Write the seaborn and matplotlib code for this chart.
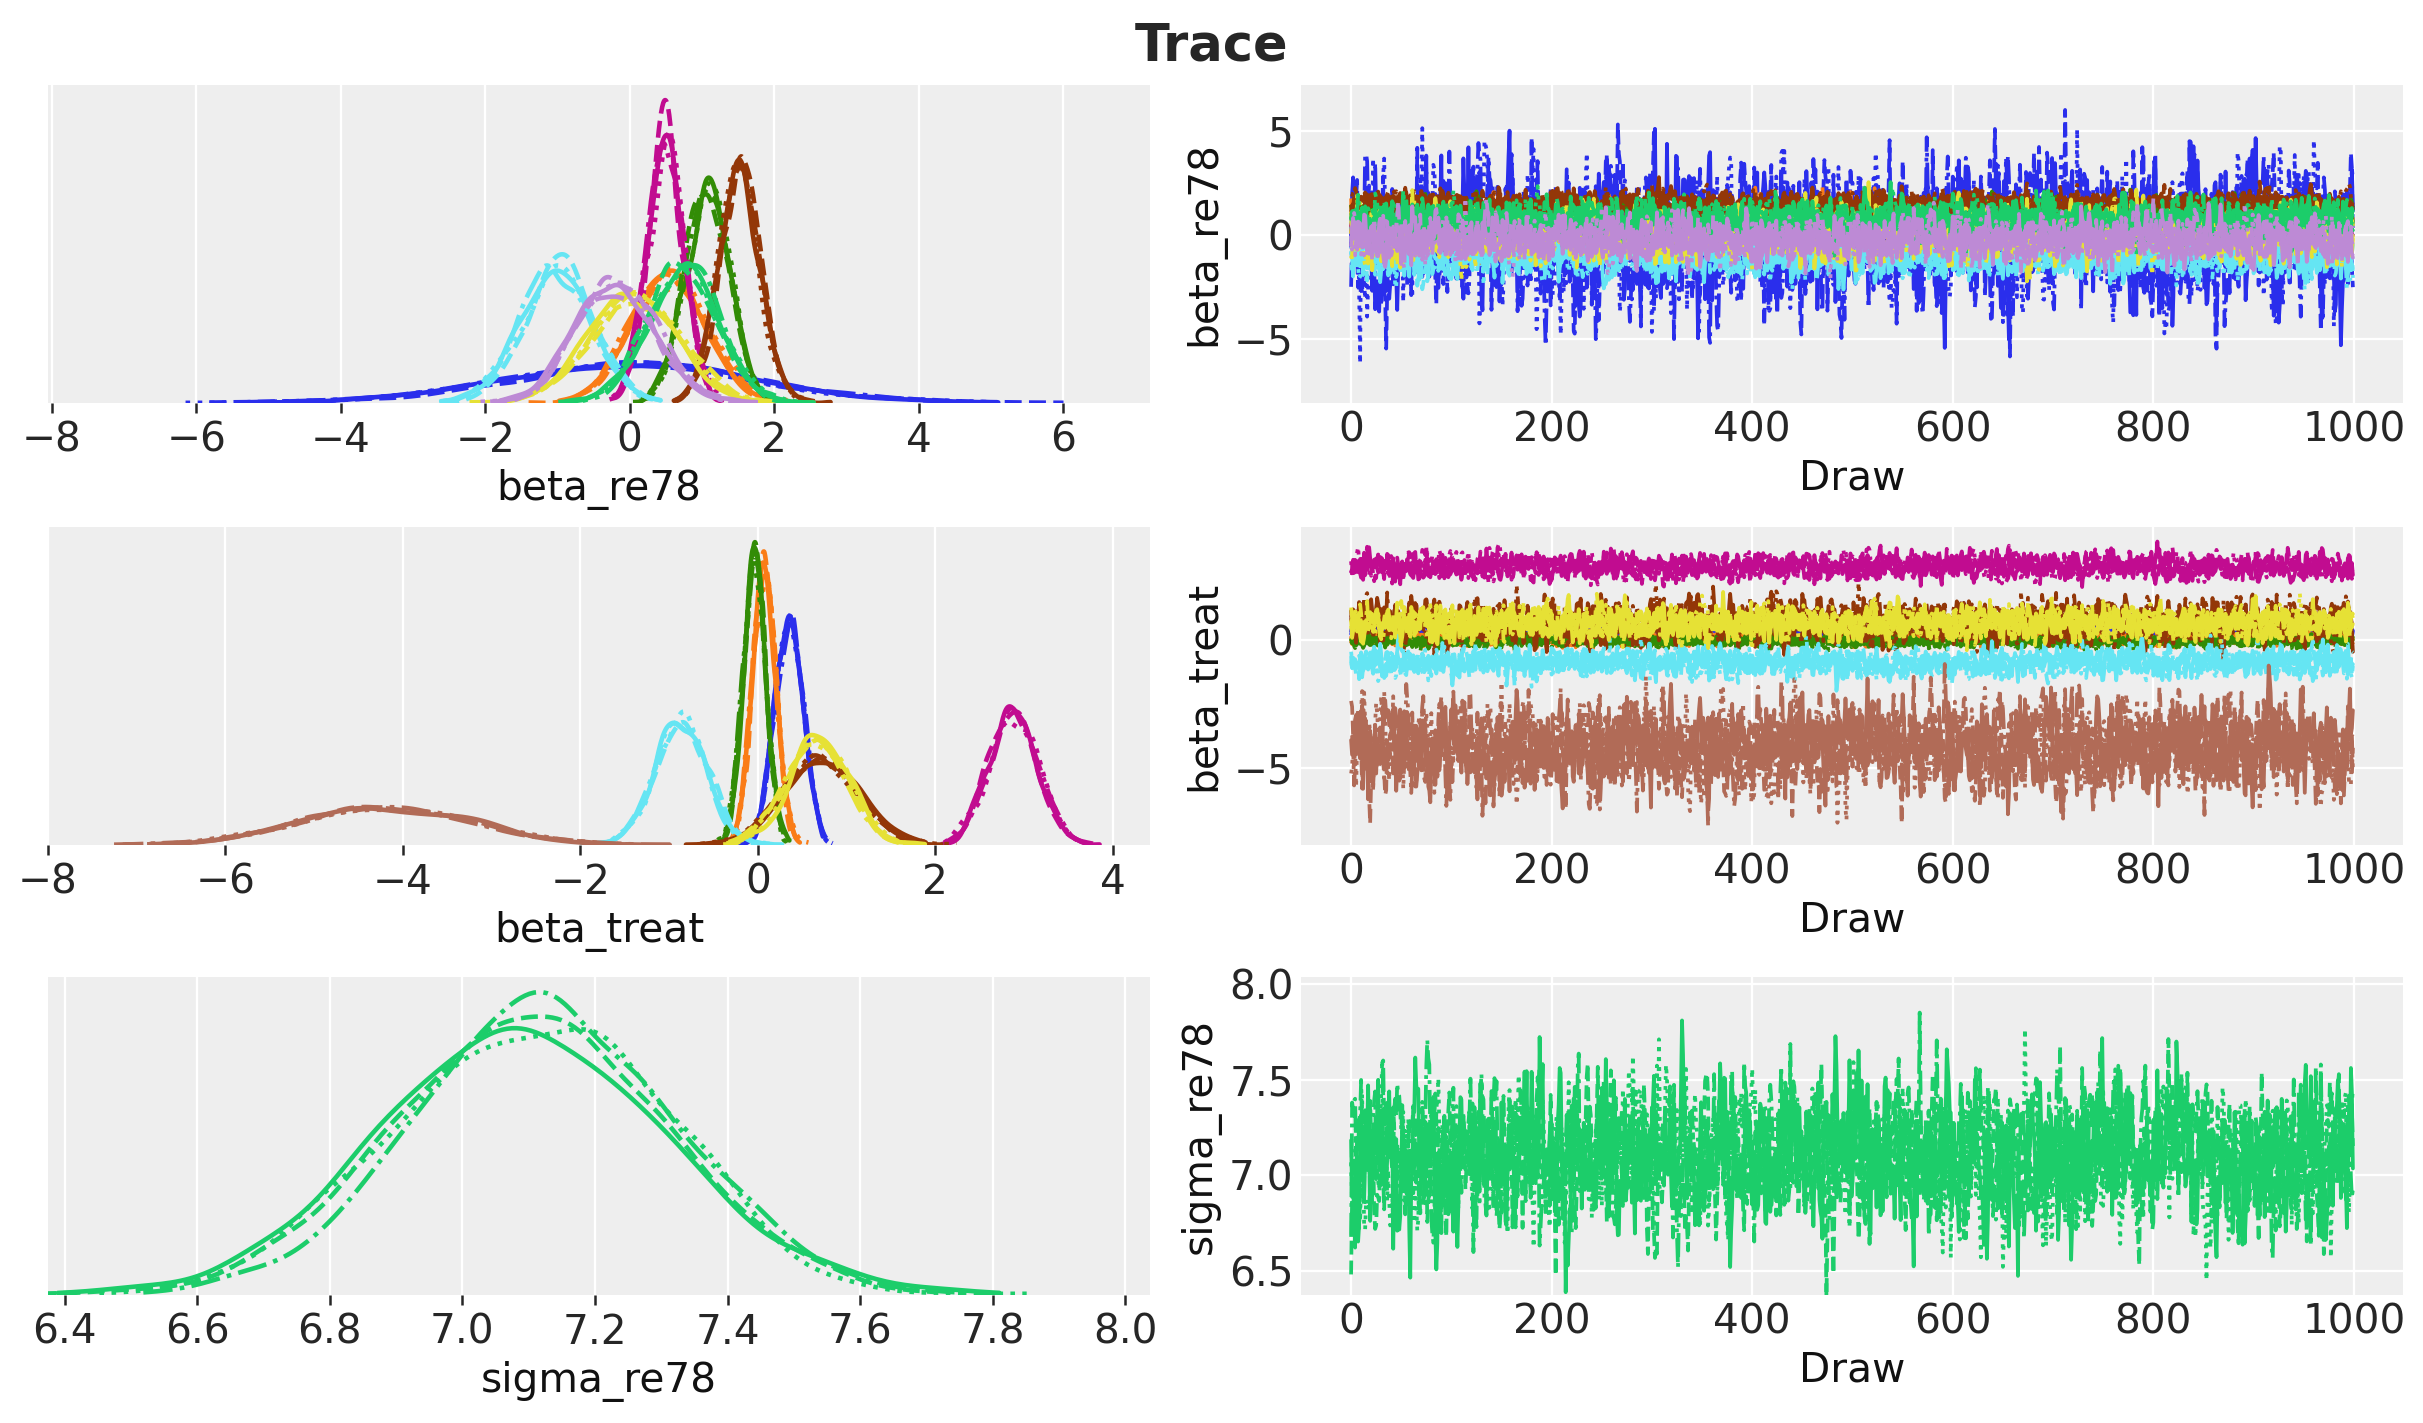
import numpy as np
import matplotlib
matplotlib.use("Agg")
import matplotlib.pyplot as plt
import seaborn as sns

# ─── DATA ─────────────────────────────────────────────────
# posterior summaries per component: location / spread read from the KDE peaks
N_CHAINS = 4
N_DRAWS = 1000
CHAIN_STYLES = ["-", ":", "--", "-."]

RE78_MEANS = [-0.05, 0.53, 1.08, 0.50, 1.52, -1.02, 0.07, 0.73, -0.18]
RE78_SDS = [1.70, 0.50, 0.30, 0.25, 0.28, 0.49, 0.62, 0.49, 0.55]
RE78_COLORS = ["#2a2eec", "#fa7c17", "#328c06", "#c10c90", "#933708",
               "#65e5f3", "#e6e135", "#1ccd6a", "#bd8ad5"]

TREAT_MEANS = [0.35, 0.08, -0.04, 2.88, 0.72, -0.88, 0.70, -4.18]
TREAT_SDS = [0.156, 0.129, 0.124, 0.27, 0.41, 0.287, 0.335, 0.95]
TREAT_COLORS = ["#2a2eec", "#fa7c17", "#328c06", "#c10c90", "#933708",
                "#65e5f3", "#e6e135", "#b16b57"]

SIGMA_MEANS = [7.10]
SIGMA_SDS = [0.205]
SIGMA_COLORS = ["#1ccd6a"]

VAR_NAMES = ["beta_re78", "beta_treat", "sigma_re78"]

# axis ranges + ticks as shown in the reference
VALUE_LIMS = [(-8.05, 7.2), (-8.0, 4.42), (6.375, 8.037)]
KDE_TICKS = [[-8, -6, -4, -2, 0, 2, 4, 6],
             [-8, -6, -4, -2, 0, 2, 4],
             [6.4, 6.6, 6.8, 7.0, 7.2, 7.4, 7.6, 7.8, 8.0]]
KDE_TICK_LABELS = [["\u22128", "\u22126", "\u22124", "\u22122", "0", "2", "4", "6"],
                   ["\u22128", "\u22126", "\u22124", "\u22122", "0", "2", "4"],
                   ["6.4", "6.6", "6.8", "7.0", "7.2", "7.4", "7.6", "7.8", "8.0"]]
TRACE_TICKS = [[-5, 0, 5], [-5, 0], [6.5, 7.0, 7.5, 8.0]]
TRACE_TICK_LABELS = [["\u22125", "0", "5"], ["\u22125", "0"], ["6.5", "7.0", "7.5", "8.0"]]
DRAW_TICKS = [0, 200, 400, 600, 800, 1000]

AUTOCORR = 0.5

# MCMC draws can't be read pixel by pixel, so chains are simulated from the summaries
rng = np.random.default_rng(11)
draw_idx = np.arange(N_DRAWS)


def make_chains(means, sds):
    out = []
    for m, s in zip(means, sds):
        eps = rng.normal(0, 1, size=(N_CHAINS, N_DRAWS))
        z = np.empty_like(eps)
        z[:, 0] = eps[:, 0]
        for t in range(1, N_DRAWS):
            z[:, t] = AUTOCORR * z[:, t - 1] + np.sqrt(1 - AUTOCORR ** 2) * eps[:, t]
        out.append(m + s * z)
    return out


VARS = [
    (make_chains(RE78_MEANS, RE78_SDS), RE78_COLORS),
    (make_chains(TREAT_MEANS, TREAT_SDS), TREAT_COLORS),
    (make_chains(SIGMA_MEANS, SIGMA_SDS), SIGMA_COLORS),
]

# ─── STYLE ────────────────────────────────────────────────
sns.set_theme(style="darkgrid", rc={
    "axes.facecolor": "#eeeeee",
    "grid.color": "white",
    "grid.linewidth": 1.1,
    "axes.edgecolor": "white",
})
plt.rcParams["font.family"] = ["DejaVu Sans"]

TICK_FS = 19.5
LABEL_FS = 19.5

fig = plt.figure(figsize=(2423 / 150, 1423 / 150), dpi=150)

LEFT_X, RIGHT_X = 48 / 2423, 1301 / 2423
COL_W = 1102 / 2423
ROW_Y = [1 - 403 / 1423, 1 - 845 / 1423, 1 - 1295 / 1423]
ROW_H = 318 / 1423

for row, (name, (chains, colors)) in enumerate(zip(VAR_NAMES, VARS)):
    ax_kde = fig.add_axes([LEFT_X, ROW_Y[row], COL_W, ROW_H])
    ax_tr = fig.add_axes([RIGHT_X, ROW_Y[row], COL_W, ROW_H])

    for comp, col in zip(chains, colors):
        for c in range(N_CHAINS):
            sns.kdeplot(x=comp[c], cut=0, color=col,
                        linestyle=CHAIN_STYLES[c], lw=2.2, ax=ax_kde)
            sns.lineplot(x=draw_idx, y=comp[c], estimator=None, color=col,
                         linestyle=CHAIN_STYLES[c], lw=1.8, ax=ax_tr)

    # left: density
    ax_kde.set_xlim(VALUE_LIMS[row])
    ax_kde.set_xticks(KDE_TICKS[row], KDE_TICK_LABELS[row])
    ax_kde.set_yticks([])
    ax_kde.set_ylabel("")
    ax_kde.set_xlabel(name, fontsize=LABEL_FS, color="#111111")
    ax_kde.tick_params(axis="x", labelsize=TICK_FS, colors="#262626",
                       length=5, width=1.2, color="#262626", bottom=True)
    ax_kde.grid(axis="y", visible=False)

    # right: trace
    ax_tr.set_ylim(VALUE_LIMS[row])
    ax_tr.set_yticks(TRACE_TICKS[row], TRACE_TICK_LABELS[row])
    ax_tr.set_xticks(DRAW_TICKS)
    ax_tr.set_xlabel("Draw", fontsize=LABEL_FS, color="#111111")
    ax_tr.set_ylabel(name, fontsize=LABEL_FS, color="#111111")
    ax_tr.tick_params(labelsize=TICK_FS, colors="#262626", length=0)

    for ax in (ax_kde, ax_tr):
        for sp in ax.spines.values():
            sp.set_visible(False)

fig.suptitle("Trace", fontsize=24.5, fontweight="bold", color="#262626", y=0.985)

plt.savefig("out.png", dpi=150)
plt.close()
